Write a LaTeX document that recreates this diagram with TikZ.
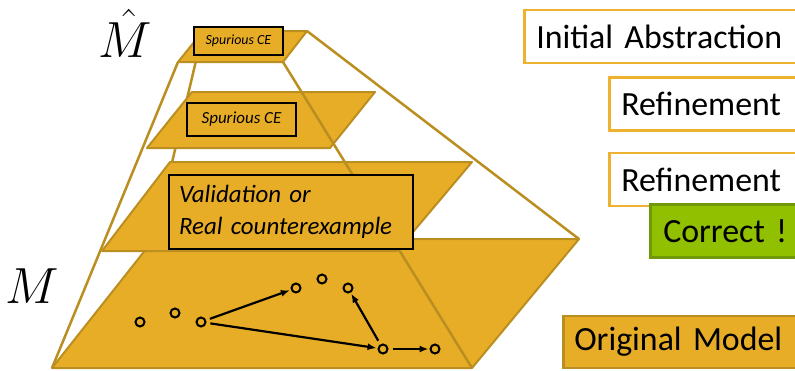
\documentclass[tikz,border=0pt]{standalone}
\usepackage{fontspec}
\setmainfont{Carlito}
\usetikzlibrary{arrows.meta}

\definecolor{layerfill}{RGB}{232,173,38}
\definecolor{layeredge}{RGB}{186,142,32}
\definecolor{tagedge}{RGB}{236,178,48}
\definecolor{okfill}{RGB}{144,192,0}
\definecolor{okedge}{RGB}{112,152,8}

\begin{document}
\begin{tikzpicture}[x=1bp, y=-1bp, >={Latex[length=9bp,width=7bp]},
	layer/.style={fill=layerfill, draw=layeredge, line width=2bp, line join=round},
	rim/.style={draw=layeredge, line width=2.5bp},
	cebox/.style={draw=black, line width=2.5bp, fill=layerfill, inner sep=0pt},
	state/.style={circle, draw=black, line width=2bp, minimum size=9bp, inner sep=0pt},
	trans/.style={->, line width=2.2bp, shorten <=4bp, shorten >=1bp},
	modelname/.style={anchor=base, font=\Huge, scale=2.05},
	tag/.style={draw=tagedge, line width=2.5bp, fill=white, anchor=west, align=left,
		minimum height=53bp, inner xsep=12bp, font=\fontsize{34}{40}\selectfont}]
	
	\useasboundingbox (0,0) rectangle (795,370);
	\clip (0,0) rectangle (795,370);
	
	% corners of the layers
	\coordinate (t1) at (178,62);  \coordinate (t2) at (283,62);
	\coordinate (t3) at (307,31);  \coordinate (t4) at (203,31);
	\coordinate (b1) at (52,368);  \coordinate (b2) at (472,368);
	\coordinate (b3) at (579,239); \coordinate (b4) at (154,239);
	
	\draw [rim] (t4) -- (b4);
	\draw [rim] (t3) -- (b3);
	
	\draw [layer] (b1) -- (b2) -- (b3) -- (b4) -- cycle;
	\draw [layer] (102,251) -- (397,251) -- (472,162) -- (170,162) -- cycle;
	\draw [layer] (147,148) -- (330,148) -- (375,92) -- (192,92) -- cycle;
	\draw [layer] (t1) -- (t2) -- (t3) -- (t4) -- cycle;
	
	\draw [rim] (t1) -- (b1);
	\draw [rim] (t2) -- (b2);
	
	\node [cebox, minimum width=89bp, minimum height=28bp, font=\fontsize{14}{16}\selectfont\itshape]
		(ce-top) at (238.5,41) {Spurious CE};
	\node [cebox, minimum width=109bp, minimum height=33bp, font=\fontsize{17}{20}\selectfont\itshape]
		(ce-mid) at (241.5,119.5) {Spurious CE};
	\node [cebox, inner xsep=10bp, text width=224bp, minimum height=74bp, align=left,
		font=\fontsize{25}{32}\selectfont\itshape]
		(real-ce) at (291,212) {Validation or\\Real counterexample};
	
	% states of the model
	\foreach \x/\y [count=\i] in {140/322, 175/313, 201/322, 296/288, 322/279, 348/288, 383/349, 435/349}
	\node [state] (s-\i) at (\x,\y) {};
	
	\draw [trans] (s-3) -- (s-4);
	\draw [trans] (s-3) -- (s-7);
	\draw [trans] (s-7) -- (s-6);
	\draw [trans] (s-7) -- (s-8);
	
	\node [modelname] (m-hat) at (125,57) {$\hat{M}$};
	\node [modelname] (m-orig) at (32,303) {$M$};
	
	\node [tag, text width=270bp] (init) at (523,36.5) {Initial Abstraction};
	\node [tag, text width=190bp] (ref-1) at (608,104) {Refinement};
	\node [tag, text width=190bp] (ref-2) at (608,179.5) {Refinement};
	\node [tag, text width=150bp, fill=okfill, draw=okedge, inner xsep=13bp] (ok) at (649,231) {Correct !};
	\node [tag, text width=230bp, fill=layerfill, draw=layeredge, inner xsep=11bp, minimum height=52bp]
		(orig) at (562,342) {Original Model};
\end{tikzpicture}
\end{document}
